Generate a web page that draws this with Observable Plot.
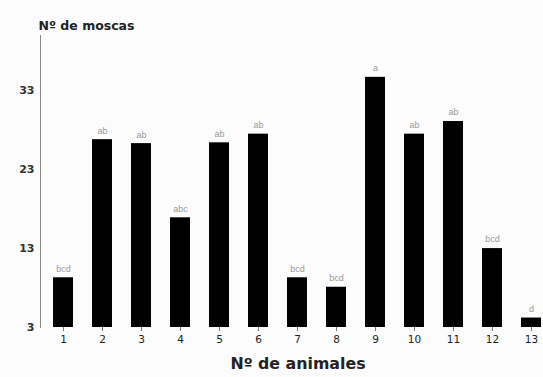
<!DOCTYPE html>
<html>
<head>
<meta charset="utf-8">
<script src="https://cdn.jsdelivr.net/npm/d3@7"></script>
<script src="https://cdn.jsdelivr.net/npm/@observablehq/plot@0.6"></script>
<style>
  html, body { margin: 0; padding: 0; background: #fcfcfc; }
  svg { font-family: "Liberation Sans", Arial, sans-serif; }
</style>
</head>
<body>
<div id="chart"></div>
<script>
const animals = ["1","2","3","4","5","6","7","8","9","10","11","12","13"];
const moscas = [9.3, 26.8, 26.3, 16.9, 26.4, 27.5, 9.3, 8.1, 34.7, 27.5, 29.1, 13.0, 4.2];
const groups = ["bcd","ab","ab","abc","ab","ab","bcd","bcd","a","ab","ab","bcd","d"];
const yTicks = [3, 13, 23, 33];
const yTitle = "Nº de moscas";
const xTitle = "Nº de animales";

const data = animals.map((a, i) => ({animal: a, value: moscas[i], group: groups[i]}));

const chart = Plot.plot({
  width: 543,
  height: 377,
  marginTop: 35,
  marginBottom: 50,
  marginLeft: 40,
  marginRight: 0,
  style: {background: "transparent", fontFamily: "'Liberation Sans', Arial, sans-serif"},
  x: {type: "band", domain: animals, range: [40, 553], paddingInner: 0.5, paddingOuter: 0.258},
  y: {domain: [3, 40], clamp: true},
  marks: [
    Plot.frame({anchor: "left", stroke: "#8a8a8a", strokeWidth: 1}),
    Plot.barY(data, {x: "animal", y: "value", fill: "#000"}),
    Plot.text(data, {x: "animal", y: "value", text: "group", dy: -9, fill: "#9a9a9a", fontSize: 9}),
    Plot.axisY({ticks: yTicks, tickSize: 0, tickPadding: 6, fontSize: 11, fontWeight: "bold", fontFamily: "DejaVu Sans", fill: "#333", label: null}),
    Plot.axisX({tickSize: 4, tickPadding: 4, fontSize: 10.5, fontFamily: "DejaVu Sans", fill: "#222", stroke: "#777", label: null}),
    Plot.text([yTitle], {frameAnchor: "top-left", dy: -14, dx: -2, textAnchor: "start", fontSize: 12.5, fontWeight: "bold", fontFamily: "DejaVu Sans", fill: "#222"}),
    Plot.text([xTitle], {frameAnchor: "bottom", dy: 41, dx: 6, fontSize: 15.8, fontWeight: "bold", fontFamily: "DejaVu Sans", fill: "#222"})
  ]
});
document.getElementById("chart").appendChild(chart);
</script>
</body>
</html>
